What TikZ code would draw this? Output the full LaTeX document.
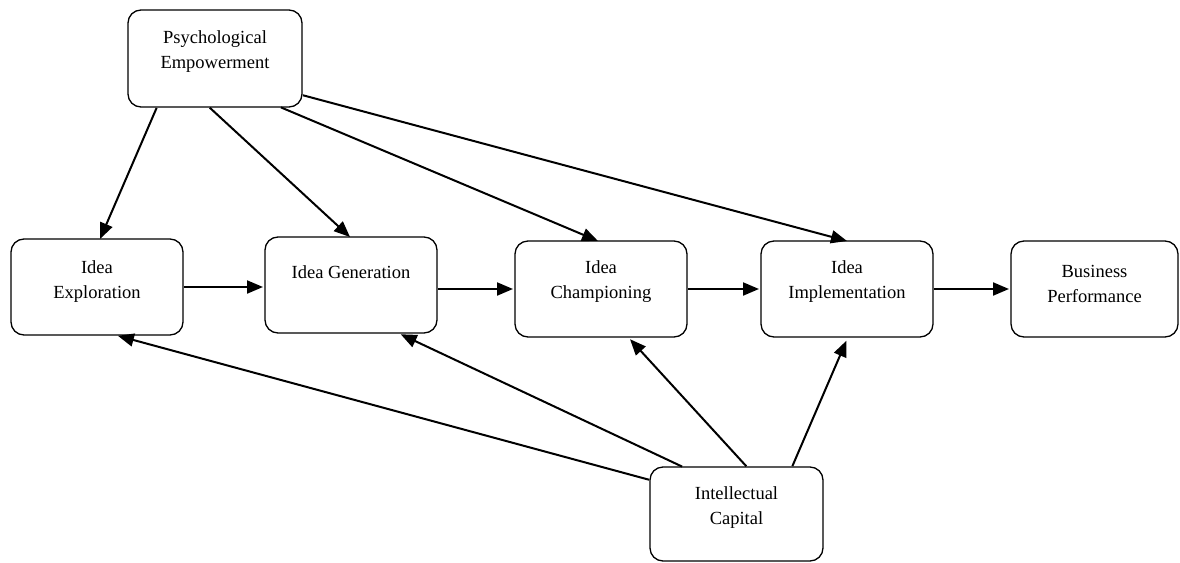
\documentclass[tikz,border=0pt]{standalone}
\usepackage{fontspec}
\setmainfont{Liberation Serif}
\usetikzlibrary{arrows.meta}
\tikzset{
    every node/.style = {
        inner sep = 0pt,
        outer sep = 0pt
    },
    factor/.style = {
        draw,
        line width = 1.3pt,
        rounded corners = 13pt,
        minimum width = 172pt,
        minimum height = 96pt
    },
    factor text/.style = {
        align = center,
        font = \fontsize{18.5}{25}\selectfont
    },
    link/.style = {
        -{Triangle[length=16pt,width=13pt]},
        line width = 2pt,
        shorten < = 1pt
    }
}
\begin{document}
\begin{tikzpicture}[x=1pt, y=-1pt]
    \useasboundingbox (0,0) rectangle (1180,562);
    \node (pe) at (215,58.5) [factor, minimum width=174pt, minimum height=97pt]{};
    \node (explor) at (97,287) [factor]{};
    \node (gen) at (351,285) [factor]{};
    \node (champ) at (601,289) [factor]{};
    \node (impl) at (847,289) [factor]{};
    \node (bus) at (1094.5,289) [factor, minimum width=167pt]{};
    \node (ic) at (736.5,514) [factor, minimum width=173pt, minimum height=94pt]{};
    \node (pe-t) at (215,52) [factor text]{Psychological\\Empowerment};
    \node (explor-t) at (97,281.5) [factor text]{Idea\\Exploration};
    \node (gen-t) at (351,272) [factor text]{Idea Generation};
    \node (champ-t) at (601,282) [factor text]{Idea\\Championing};
    \node (impl-t) at (847,282) [factor text]{Idea\\Implementation};
    \node (bus-t) at (1094.5,283.5) [factor text]{Business\\Performance};
    \node (ic-t) at (736.5,508) [factor text]{Intellectual\\Capital};
    \draw [link] ([xshift=29pt]pe.south west) -- ([xshift=89pt]explor.north west);
    \draw [link] ([xshift=81pt]pe.south west) -- ([xshift=85pt]gen.north west);
    \draw [link] ([xshift=152pt]pe.south west) -- ([xshift=83pt]champ.north west);
    \draw [link] ([yshift=12pt]pe.south east) -- ([xshift=86pt]impl.north west);
    \draw [link, shorten > = 2pt] (explor.east) -- (explor.east -| gen.west);
    \draw [link, shorten > = 2pt] (champ.west -| gen.east) -- (champ.west);
    \draw [link, shorten > = 2pt] (champ.east) -- (impl.west);
    \draw [link, shorten > = 2pt] (impl.east) -- (bus.west);
    \draw [link, shorten > = 3pt] ([yshift=-13pt]ic.north west) -- ([xshift=104pt]explor.south west);
    \draw [link, shorten > = 3pt] ([xshift=33pt]ic.north west) -- ([xshift=133pt]gen.south west);
    \draw [link, shorten > = 3pt] ([xshift=97pt]ic.north west) -- ([xshift=113pt]champ.south west);
    \draw [link, shorten > = 4pt] ([xshift=142pt]ic.north west) -- ([xshift=87pt]impl.south west);
\end{tikzpicture}
\end{document}
